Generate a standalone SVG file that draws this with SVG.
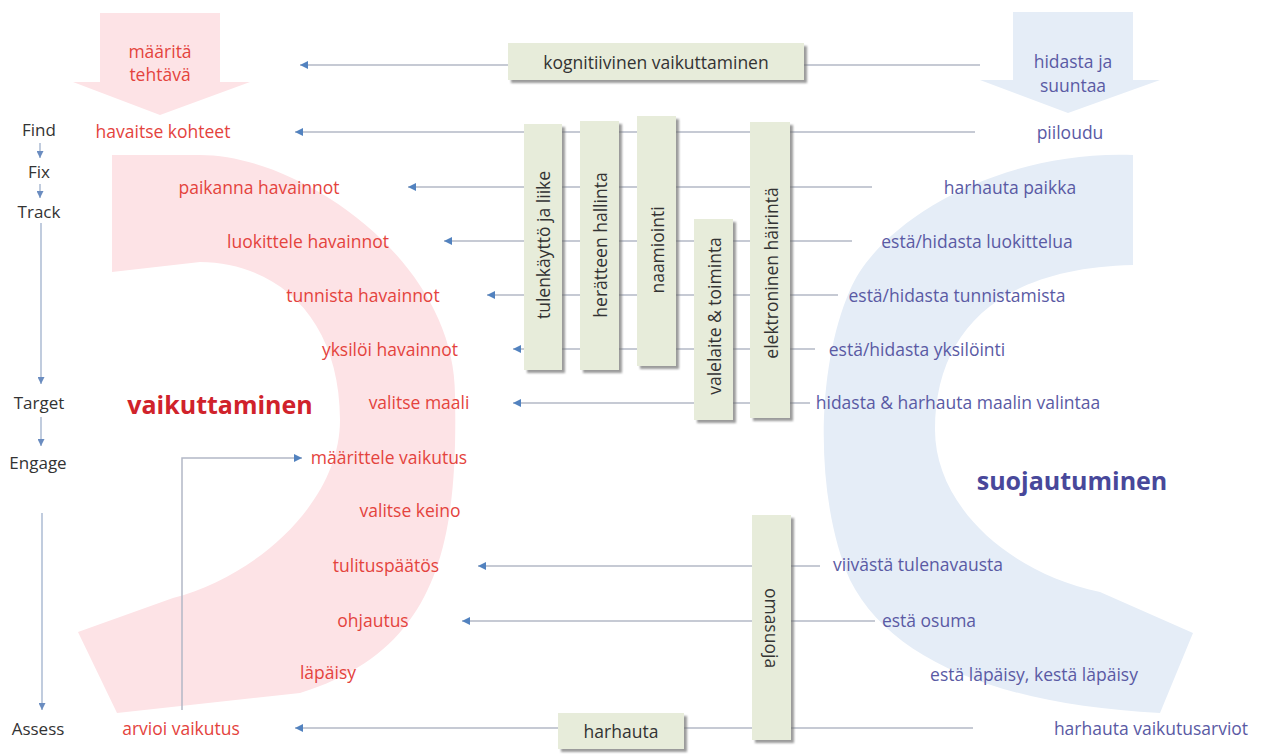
<svg xmlns="http://www.w3.org/2000/svg" width="1263" height="756" viewBox="0 0 1263 756">
<style>
text{font-family:"Open Sans","Noto Sans","DejaVu Sans",sans-serif;font-size:17.5px;text-anchor:middle;dominant-baseline:central}
.r{fill:#e4433d}
.b{fill:#5a5aa4}
.k{fill:#333}
.col{fill:#333;font-size:17px}
.big{font-size:25px;font-weight:bold}
.box{fill:#e7ecda;filter:url(#sh)}
.ln{fill:none;stroke:#b3b8c6;stroke-width:1.5}
.cl{fill:none;stroke:#9fb1cc;stroke-width:1.3}
</style>
<defs>
<filter id="sh" x="-20%" y="-20%" width="140%" height="140%">
<feDropShadow dx="3" dy="3" stdDeviation="1.3" flood-color="#6f6f6f" flood-opacity="0.7"/>
</filter>
<marker id="ah" viewBox="0 0 10 10" refX="10" refY="5" markerWidth="9" markerHeight="8" markerUnits="userSpaceOnUse" orient="auto">
<path d="M0,0 L10,5 L0,10 Z" fill="#5282bf"/>
</marker>
<marker id="as" viewBox="0 0 10 10" refX="10" refY="5" markerWidth="8" markerHeight="7" markerUnits="userSpaceOnUse" orient="auto">
<path d="M0,0 L10,5 L0,10 Z" fill="#6a8cc0"/>
</marker>
</defs>
<rect width="1263" height="756" fill="#ffffff"/>

<g id="shapes">
<path id="pink-arc" d="M112,155 L200,155 C300,155 455,260 455,395 C458,540 440,650 300,693 L117,713 L78,632 L173,598 C260,575 340,500 340,420 C340,320 280,263 200,262 L112,272 Z" fill="#fde3e6"/>
<path id="pink-arrow" d="M100,13 H220 V82 H250 L160,115 L73,82 H100 Z" fill="#fde3e6"/>
<path id="blue-arc" d="M1133,155 C1000,150 880,220 850,290 C815,370 815,500 850,580 C890,660 1000,705 1160,713 L1193,633 L1100,592 C1000,570 935,500 935,430 C935,330 1000,268 1133,265 Z" fill="#e5edf7"/>
<path id="blue-arrow" d="M1013,12 H1133 V80 H1160 L1068,113 L980,80 H1013 Z" fill="#e5edf7"/>
</g>

<g id="connectors">
<path class="ln" d="M980,65 H300" marker-end="url(#ah)"/>
<path class="ln" d="M975,132 H295" marker-end="url(#ah)"/>
<path class="ln" d="M872,187 H408" marker-end="url(#ah)"/>
<path class="ln" d="M852,241 H444" marker-end="url(#ah)"/>
<path class="ln" d="M838,295 H487" marker-end="url(#ah)"/>
<path class="ln" d="M815,349 H513" marker-end="url(#ah)"/>
<path class="ln" d="M810,403 H513" marker-end="url(#ah)"/>
<path class="ln" d="M820,566 H478" marker-end="url(#ah)"/>
<path class="ln" d="M875,621 H462" marker-end="url(#ah)"/>
<path class="ln" d="M973,728 H295" marker-end="url(#ah)"/>
<path class="ln" d="M182,710 V458 H302" marker-end="url(#ah)"/>
<path class="cl" d="M40,143 V158" marker-end="url(#as)"/>
<path class="cl" d="M40,184 V198" marker-end="url(#as)"/>
<path class="cl" d="M41,223 V384" marker-end="url(#as)"/>
<path class="cl" d="M41,417 V446" marker-end="url(#as)"/>
<path class="cl" d="M42,513 V710" marker-end="url(#as)"/>
</g>

<g id="n-kognitiivinen"><rect class="box" x="508" y="43" width="296" height="37"/><text class="k" x="656" y="62">kognitiivinen vaikuttaminen</text></g>
<g id="n-tulenkaytto"><rect class="box" x="524" y="124" width="38" height="246"/><text class="k" transform="translate(543,245) rotate(-90)">tulenkäyttö ja liike</text></g>
<g id="n-heratteen"><rect class="box" x="580" y="121" width="39" height="249"/><text class="k" transform="translate(600,245) rotate(-90)">herätteen hallinta</text></g>
<g id="n-naamiointi"><rect class="box" x="637" y="116" width="39" height="250"/><text class="k" transform="translate(657,250) rotate(-90)">naamiointi</text></g>
<g id="n-valelaite"><rect class="box" x="694" y="219" width="39" height="201"/><text class="k" transform="translate(714,316) rotate(-90)">valelaite &amp; toiminta</text></g>
<g id="n-elektroninen"><rect class="box" x="750" y="122" width="40" height="296"/><text class="k" transform="translate(771,273) rotate(-90)">elektroninen häirintä</text></g>
<g id="n-omasuoja"><rect class="box" x="752" y="515" width="39" height="225"/><text class="k" transform="translate(772,628) rotate(90)">omasuoja</text></g>
<g id="n-harhauta"><rect class="box" x="558" y="713" width="126" height="36"/><text class="k" x="621" y="731">harhauta</text></g>

<g id="n-phases">
<text class="col" x="39" y="129">Find</text>
<text class="col" x="39" y="171">Fix</text>
<text class="col" x="39" y="211">Track</text>
<text class="col" x="39" y="402">Target</text>
<text class="col" x="38" y="462">Engage</text>
<text class="col" x="38" y="728">Assess</text>
</g>

<g id="n-vaikuttaminen">
<text class="r" x="160" y="51">määritä</text>
<text class="r" x="160" y="74">tehtävä</text>
<text class="r" x="163" y="131">havaitse kohteet</text>
<text class="r" x="259" y="187">paikanna havainnot</text>
<text class="r" x="308" y="241">luokittele havainnot</text>
<text class="r" x="363" y="295">tunnista havainnot</text>
<text class="r" x="390" y="349">yksilöi havainnot</text>
<text class="r" x="419" y="402">valitse maali</text>
<text class="r" x="389" y="457">määrittele vaikutus</text>
<text class="r" x="410" y="510">valitse keino</text>
<text class="r" x="386" y="565">tulituspäätös</text>
<text class="r" x="373" y="620">ohjautus</text>
<text class="r" x="328" y="672">läpäisy</text>
<text class="r" x="181" y="728">arvioi vaikutus</text>
<text class="big" x="220" y="404" fill="#d0222b">vaikuttaminen</text>
</g>

<g id="n-suojautuminen">
<text class="b" x="1073" y="61">hidasta ja</text>
<text class="b" x="1073" y="85">suuntaa</text>
<text class="b" x="1070" y="132">piiloudu</text>
<text class="b" x="1010" y="187">harhauta paikka</text>
<text class="b" x="977" y="241">estä/hidasta luokittelua</text>
<text class="b" x="957" y="295">estä/hidasta tunnistamista</text>
<text class="b" x="917" y="349">estä/hidasta yksilöinti</text>
<text class="b" x="958" y="402">hidasta &amp; harhauta maalin valintaa</text>
<text class="big" x="1072" y="480" fill="#48489a">suojautuminen</text>
<text class="b" x="918" y="564">viivästä tulenavausta</text>
<text class="b" x="929" y="620">estä osuma</text>
<text class="b" x="1034" y="674">estä läpäisy, kestä läpäisy</text>
<text class="b" x="1151" y="728">harhauta vaikutusarviot</text>
</g>
</svg>
